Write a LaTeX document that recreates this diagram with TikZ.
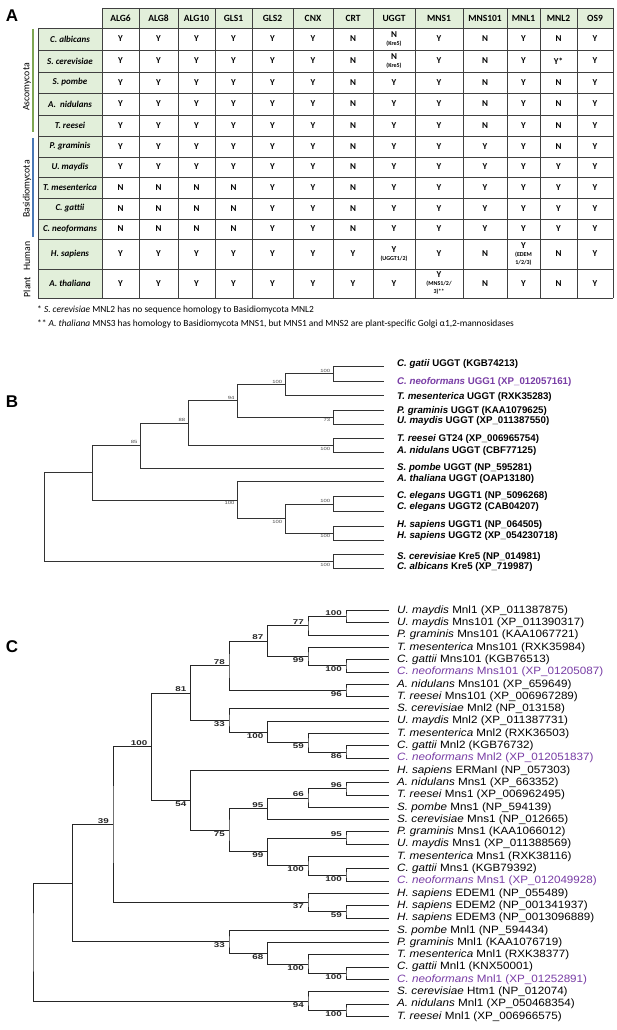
\documentclass[tikz,border=0pt]{standalone}
\usepackage{fontspec}
\setmainfont{Liberation Sans}
\newfontfamily\tabfont{Carlito}
\newfontfamily\leaffont[FakeStretch=1.1]{Liberation Sans}
\newfontfamily\bsfont[FakeStretch=1.4]{Liberation Sans}
\newfontfamily\bsfontB[FakeStretch=1.3]{Liberation Sans}
\usetikzlibrary{calc}
\definecolor{cellgreen}{HTML}{E2EFDA}
\definecolor{ascogreen}{HTML}{7FA653}
\definecolor{basblue}{HTML}{4A78B5}
\definecolor{neopurple}{RGB}{120,60,165}
\newcommand\sub[1]{{\fontsize{6}{6.5}\selectfont #1}}
\newcommand\cl[7]{%
  \path let \p1=($(#3)!.5!(#4)$) in coordinate (#1) at (#2pt,\y1);
  \draw[#7] (#3) -| (#1) |- (#4);
  \node[#6] (#1l) at (#1) {#5};
}
\begin{document}
\begin{tikzpicture}[x=1pt,y=-1pt,
  grid/.style={draw=black!75, line width=0.8pt},
  th/.style={font=\tabfont\bfseries\fontsize{9.5}{9.5}\selectfont, inner sep=0},
  td/.style={font=\tabfont\bfseries\fontsize{9}{8}\selectfont, inner sep=0, align=center},
  sp/.style={font=\tabfont\bfseries\itshape\fontsize{9}{9}\selectfont, inner sep=0},
  grp/.style={font=\tabfont\fontsize{9.8}{9.8}\selectfont, rotate=90, inner sep=0},
  note/.style={font=\tabfont\fontsize{9.4}{9.4}\selectfont, anchor=west, inner sep=0},
  panel/.style={font=\bfseries\fontsize{17}{17}\selectfont, inner sep=0},
  brB/.style={draw=black!80, line width=0.9pt},
  brC/.style={draw=black!85, line width=0.9pt},
  lfB/.style={anchor=west, inner sep=0, font=\bfseries\fontsize{9.7}{9.7}\selectfont},
  lfC/.style={anchor=west, inner sep=0, font=\leaffont\fontsize{10.6}{10.6}\selectfont},
  bsB/.style={inner sep=0, font=\bsfontB\fontsize{4.5}{4.5}\selectfont, text=black!70},
  bsBa/.style={bsB, anchor=south east, xshift=-3pt, yshift=1.5pt},
  bsBb/.style={bsB, anchor=north east, xshift=-3pt, yshift=-1.5pt},
  bsC/.style={inner sep=0, font=\bsfont\bfseries\fontsize{7}{7}\selectfont, text=black!85},
  bsCa/.style={bsC, anchor=south east, xshift=-4pt, yshift=1pt},
  bsCb/.style={bsC, anchor=north east, xshift=-4pt, yshift=-1pt}]
\useasboundingbox (0,0) rectangle (617,1030);
\fill[white] (0,0) rectangle (617,1030);

% ---------------- Panel A: table ----------------
\node[panel] (pA) at (12,16) {A};
\fill[cellgreen] (102,8) rectangle (613,28);
\fill[cellgreen] (38,28) rectangle (102,298);
\foreach \x in {102,139,178,215,252,293,333,373,415,463,507,540,577,613}
  \draw[grid] (\x,8) -- (\x,298);
\draw[grid] (38,28) -- (38,298);
\draw[grid] (102,8) -- (613,8);
\foreach \y in {28,50,72,93,115,136,157,177,198,219,239,269,298}
  \draw[grid] (38,\y) -- (613,\y);

\foreach \h/\cx [count=\i] in {ALG6/120.5,ALG8/158.5,ALG10/196.5,GLS1/233.5,GLS2/272.5,CNX/313,CRT/353,UGGT/394,MNS1/439,MNS101/485,MNL1/523.5,MNL2/558.5,OS9/595}
  \node[th] (h\i) at (\cx,18) {\h};

\foreach \ry/\sname/\vals [count=\r] in {
  39/{C. albicans}/{Y,Y,Y,Y,Y,Y,N,{N\\\sub{(Kre5)}},Y,N,Y,N,Y},
  61/{S. cerevisiae}/{Y,Y,Y,Y,Y,Y,N,{N\\\sub{(Kre5)}},Y,N,Y,Y*,Y},
  82.5/{S. pombe}/{Y,Y,Y,Y,Y,Y,N,Y,Y,N,Y,N,Y},
  104/{A.\ \ nidulans}/{Y,Y,Y,Y,Y,Y,N,Y,Y,N,Y,N,Y},
  125.5/{T. reesei}/{Y,Y,Y,Y,Y,Y,N,Y,Y,N,Y,N,Y},
  146.5/{P. graminis}/{Y,Y,Y,Y,Y,Y,N,Y,Y,Y,Y,N,Y},
  167/{U. maydis}/{Y,Y,Y,Y,Y,Y,N,Y,Y,Y,Y,Y,Y},
  187.5/{T. mesenterica}/{N,N,N,N,Y,Y,N,Y,Y,Y,Y,Y,Y},
  208.5/{C. gattii}/{N,N,N,N,Y,Y,N,Y,Y,Y,Y,Y,Y},
  229/{C. neoformans}/{N,N,N,N,Y,Y,N,Y,Y,Y,Y,Y,Y},
  254/{H. sapiens}/{Y,Y,Y,Y,Y,Y,Y,{Y\\\sub{(UGGT1/2)}},Y,N,{Y\\\sub{(EDEM}\\\sub{1/2/3)}},N,Y},
  283.5/{A. thaliana}/{Y,Y,Y,Y,Y,Y,Y,Y,{Y\\\sub{(MNS1/2/}\\\sub{3)**}},N,Y,N,Y}} {
  \node[sp] (s\r) at (70,\ry) {\sname};
  \foreach \v [count=\c] in \vals {
    \pgfmathsetmacro\cx{{120.5,158.5,196.5,233.5,272.5,313,353,394,439,485,523.5,558.5,595}[\c-1]}
    \node[td] (v\r-\c) at (\cx,\ry) {\v};
  }
}

\draw[ascogreen, line width=1.2pt] (33,29) -- (33,132);
\draw[basblue, line width=1.2pt] (33,138) -- (33,237);
\node[grp] (g1) at (27,87) {Ascomycota};
\node[grp] (g2) at (27,189) {Basidiomycota};
\node[grp] (g3) at (27,256) {Human};
\node[grp] (g4) at (27,287) {Plant};

\node[note] (f1) at (37,310) {* \textit{S. cerevisiae} MNL2 has no sequence homology to Basidiomycota MNL2};
\node[note] (f2) at (37,324) {** \textit{A. thaliana} MNS3 has homology to Basidiomycota MNS1, but MNS1 and MNS2 are plant-specific Golgi α1,2-mannosidases};

% ---------------- Panel B ----------------
\node[panel] (pB) at (12,402) {B};
\foreach \ly/\ty/\t [count=\i] in {
  366.7/364.3/{\textit{C. gatii} UGGT (KGB74213)},
  381/381.7/{\color{neopurple}\textit{C. neoformans} UGG1 (XP\_012057161)},
  395.7/396.7/{\textit{T. mesenterica} UGGT (RXK35283)},
  410/410.7/{\textit{P. graminis} UGGT (KAA1079625)},
  424/421.3/{\textit{U. maydis} UGGT (XP\_011387550)},
  438.5/439.3/{\textit{T. reesei} GT24 (XP\_006965754)},
  452.3/451.3/{\textit{A. nidulans} UGGT (CBF77125)},
  468/468/{\textit{S. pombe} UGGT (NP\_595281)},
  481.7/479.3/{\textit{A. thaliana} UGGT (OAP13180)},
  496.7/496/{\textit{C. elegans} UGGT1 (NP\_5096268)},
  511.7/506.7/{\textit{C. elegans} UGGT2 (CAB04207)},
  526/525/{\textit{H. sapiens} UGGT1 (NP\_064505)},
  540/535.7/{\textit{H. sapiens} UGGT2 (XP\_054230718)},
  554.3/556.7/{\textit{S. cerevisiae} Kre5 (NP\_014981)},
  568.3/566.7/{\textit{C. albicans} Kre5 (XP\_719987)}} {
  \coordinate (B\i) at (383.5,\ly);
  \node[lfB] (B\i t) at (397,\ty) {\t};
}
\cl{bA}{333.3}{B1}{B2}{100}{bsBa}{brB}
\cl{bB}{285.3}{bA}{B3}{100}{bsBa}{brB}
\cl{bC}{333.3}{B4}{B5}{73}{bsBb}{brB}
\cl{bD}{237.7}{bB}{bC}{94}{bsBa}{brB}
\cl{bE}{333.3}{B6}{B7}{100}{bsBb}{brB}
\cl{bF}{188.3}{bD}{bE}{88}{bsBa}{brB}
\cl{bG}{140.5}{bF}{B8}{85}{bsBa}{brB}
\cl{bH}{333.3}{B10}{B11}{100}{bsBa}{brB}
\cl{bI}{333.3}{B12}{B13}{100}{bsBb}{brB}
\cl{bJ}{285.3}{bH}{bI}{100}{bsBb}{brB}
\cl{bK}{237.7}{B9}{bJ}{100}{bsBb}{brB}
\cl{bL}{92.5}{bG}{bK}{}{bsBa}{brB}
\cl{bM}{333.3}{B14}{B15}{100}{bsBb}{brB}
\cl{bR}{44.5}{bL}{bM}{}{bsBa}{brB}

% ---------------- Panel C ----------------
\node[panel] (pC) at (12,647) {C};
\foreach \t [count=\i] in {
  {\textit{U. maydis} Mnl1 (XP\_011387875)},
  {\textit{U. maydis} Mns101 (XP\_011390317)},
  {\textit{P. graminis} Mns101 (KAA1067721)},
  {\textit{T. mesenterica} Mns101 (RXK35984)},
  {\textit{C. gattii} Mns101 (KGB76513)},
  {\color{neopurple}\textit{C. neoformans} Mns101 (XP\_01205087)},
  {\textit{A. nidulans} Mns101 (XP\_659649)},
  {\textit{T. reesei} Mns101 (XP\_006967289)},
  {\textit{S. cerevisiae} Mnl2 (NP\_013158)},
  {\textit{U. maydis} Mnl2 (XP\_011387731)},
  {\textit{T. mesenterica} Mnl2 (RXK36503)},
  {\textit{C. gattii} Mnl2 (KGB76732)},
  {\color{neopurple}\textit{C. neoformans} Mnl2 (XP\_012051837)},
  {\textit{H. sapiens} ERManI (NP\_057303)},
  {\textit{A. nidulans} Mns1 (XP\_663352)},
  {\textit{T. reesei} Mns1 (XP\_006962495)},
  {\textit{S. pombe} Mns1 (NP\_594139)},
  {\textit{S. cerevisiae} Mns1 (NP\_012665)},
  {\textit{P. graminis} Mns1 (KAA1066012)},
  {\textit{U. maydis} Mns1 (XP\_011388569)},
  {\textit{T. mesenterica} Mns1 (RXK38116)},
  {\textit{C. gattii} Mns1 (KGB79392)},
  {\color{neopurple}\textit{C. neoformans} Mns1 (XP\_012049928)},
  {\textit{H. sapiens} EDEM1 (NP\_055489)},
  {\textit{H. sapiens} EDEM2 (NP\_001341937)},
  {\textit{H. sapiens} EDEM3 (NP\_0013096889)},
  {\textit{S. pombe} Mnl1 (NP\_594434)},
  {\textit{P. graminis} Mnl1 (KAA1076719)},
  {\textit{T. mesenterica} Mnl1 (RXK38377)},
  {\textit{C. gattii} Mnl1 (KNX50001)},
  {\color{neopurple}\textit{C. neoformans} Mnl1 (XP\_01252891)},
  {\textit{S. cerevisiae} Htm1 (NP\_012074)},
  {\textit{A. nidulans} Mnl1 (XP\_050468354)},
  {\textit{T. reesei} Mnl1 (XP\_006966575)}} {
  \coordinate (C\i) at (389,{610.5+12.3*(\i-1)});
  \node[lfC] (C\i t) at (397,{610.5+12.3*(\i-1)}) {\t};
}
\cl{cA}{346}{C1}{C2}{100}{bsCa}{brC}
\cl{cB}{308}{cA}{C3}{77}{bsCa}{brC}
\cl{cC}{346}{C5}{C6}{100}{bsCb}{brC}
\cl{cD}{308}{C4}{cC}{99}{bsCb}{brC}
\cl{cE}{267.5}{cB}{cD}{87}{bsCa}{brC}
\cl{cF}{346}{C7}{C8}{96}{bsCb}{brC}
\cl{cG}{229}{cE}{cF}{78}{bsCa}{brC}
\cl{cH}{346}{C12}{C13}{86}{bsCb}{brC}
\cl{cI}{308}{C11}{cH}{59}{bsCb}{brC}
\cl{cJ}{267.5}{C10}{cI}{100}{bsCb}{brC}
\cl{cK}{229}{C9}{cJ}{33}{bsCb}{brC}
\cl{cL}{190.5}{cG}{cK}{81}{bsCa}{brC}
\cl{cM}{346}{C15}{C16}{96}{bsCa}{brC}
\cl{cN}{308}{cM}{C17}{66}{bsCa}{brC}
\cl{cO}{267.5}{cN}{C18}{95}{bsCa}{brC}
\cl{cP}{346}{C19}{C20}{95}{bsCa}{brC}
\cl{cQ}{346}{C22}{C23}{100}{bsCb}{brC}
\cl{cR}{308}{C21}{cQ}{100}{bsCb}{brC}
\cl{cS}{267.5}{cP}{cR}{99}{bsCb}{brC}
\cl{cT}{229}{cO}{cS}{75}{bsCb}{brC}
\cl{cU}{190.5}{C14}{cT}{54}{bsCb}{brC}
\cl{cV}{151.5}{cL}{cU}{100}{bsCa}{brC}
\cl{cW}{346}{C25}{C26}{59}{bsCb}{brC}
\cl{cX}{308}{C24}{cW}{37}{bsCb}{brC}
\cl{cY}{113}{cV}{cX}{39}{bsCa}{brC}
\cl{cZa}{346}{C30}{C31}{100}{bsCb}{brC}
\cl{cZb}{308}{C29}{cZa}{100}{bsCb}{brC}
\cl{cZc}{267.5}{C28}{cZb}{68}{bsCb}{brC}
\cl{cZd}{229}{C27}{cZc}{33}{bsCb}{brC}
\cl{cZe}{72.5}{cY}{cZd}{}{bsCa}{brC}
\cl{cZf}{346}{C33}{C34}{100}{bsCb}{brC}
\cl{cZg}{308}{C32}{cZf}{94}{bsCb}{brC}
\cl{cRt}{33}{cZe}{cZg}{}{bsCa}{brC}
\end{tikzpicture}
\end{document}
